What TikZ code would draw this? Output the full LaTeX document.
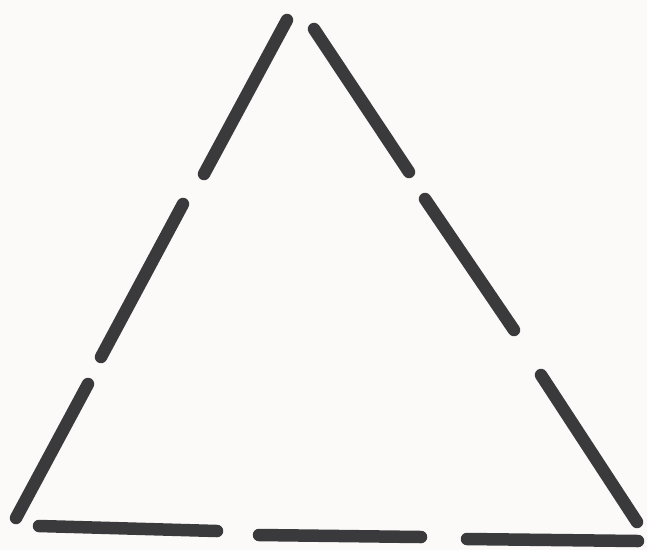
\documentclass[tikz,border=0pt]{standalone}
\definecolor{ink}{HTML}{3A3A3C}
\definecolor{paper}{HTML}{FBFAF8}
\tikzset{dashseg/.style={draw=ink, line width=12.5pt, line cap=round}}
\begin{document}
\begin{tikzpicture}[x=1pt,y=-1pt]
\fill[paper] (0,0) rectangle (647,550);
\useasboundingbox (0,0) rectangle (647,550);
% left side
\coordinate (l1a) at (287,20); \coordinate (l1b) at (204,174);
\coordinate (l2a) at (183,204); \coordinate (l2b) at (101,357);
\coordinate (l3a) at (88,384); \coordinate (l3b) at (16,518);
% right side
\coordinate (r1a) at (314,29); \coordinate (r1b) at (409,172);
\coordinate (r2a) at (425,199); \coordinate (r2b) at (514,330);
\coordinate (r3a) at (541,375); \coordinate (r3b) at (637,522);
% bottom
\coordinate (b1a) at (39,526); \coordinate (b1b) at (217,531);
\coordinate (b2a) at (259,535); \coordinate (b2b) at (421,537);
\coordinate (b3a) at (467,539); \coordinate (b3b) at (638,541);
\draw[dashseg] (l1a) -- (l1b);
\draw[dashseg] (l2a) -- (l2b);
\draw[dashseg] (l3a) -- (l3b);
\draw[dashseg] (r1a) -- (r1b);
\draw[dashseg] (r2a) -- (r2b);
\draw[dashseg] (r3a) -- (r3b);
\draw[dashseg] (b1a) -- (b1b);
\draw[dashseg] (b2a) -- (b2b);
\draw[dashseg] (b3a) -- (b3b);
\end{tikzpicture}
\end{document}
